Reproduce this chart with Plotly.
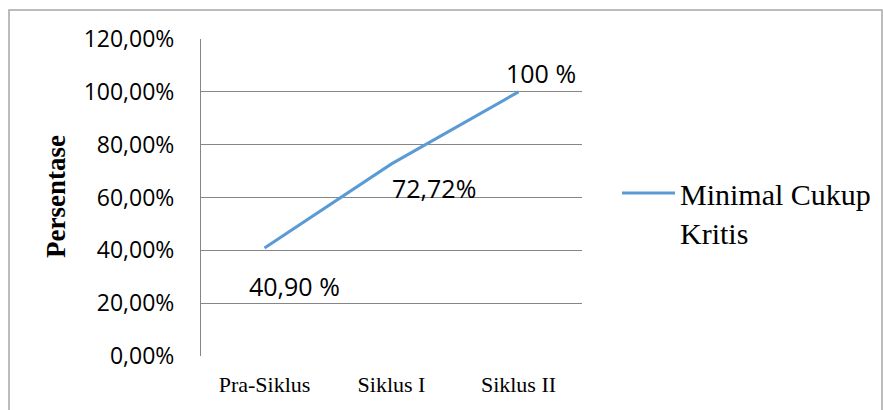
import plotly.graph_objects as go

categories = ["Pra-Siklus", "Siklus I", "Siklus II"]
values = [0.4090, 0.7272, 1.00]
value_labels = ["40,90 %", "72,72%", "100 %"]
label_offsets = [(30, -38), (42, -24), (22, 19)]
series_name = "Minimal Cukup<br>Kritis"
y_ticks = [0, 0.2, 0.4, 0.6, 0.8, 1.0, 1.2]

W, H = 883, 410
L, R, T, B = 201, 301, 39, 54
pw = W - L - R
ph = H - T - B

fig = go.Figure()
fig.add_trace(go.Scatter(
    x=categories, y=values, mode="lines", name=series_name,
    line=dict(color="#5B9BD5", width=3),
))

for c, v, t, (dx, dy) in zip(categories, values, value_labels, label_offsets):
    fig.add_annotation(x=c, y=v, text=t, showarrow=False, xshift=dx, yshift=dy,
                       font=dict(family="Open Sans", size=25, color="#000"))

fig.add_annotation(xref="paper", yref="paper", x=(39 - L) / pw, y=(H - B - 197) / ph,
                   text="<b>Persentase</b>", textangle=-90, showarrow=False,
                   font=dict(family="Liberation Serif", size=27, color="#000"))

# outer chart border
fig.add_shape(type="rect", xref="paper", yref="paper",
              x0=(9 - L) / pw, x1=(882 - L) / pw,
              y0=(H - B - 415) / ph, y1=(H - B - 10) / ph,
              line=dict(color="#a6a6a6", width=1.5), fillcolor="rgba(0,0,0,0)", layer="below")

fig.update_layout(
    width=W, height=H,
    margin=dict(l=L, r=R, t=T, b=B, pad=0, autoexpand=False),
    paper_bgcolor="white", plot_bgcolor="white",
    separators=",.",
    showlegend=True,
    legend=dict(x=(617 - L) / pw, y=(H - B - 167) / ph, xanchor="left", yanchor="top",
                valign="top", itemwidth=53,
                font=dict(family="Liberation Serif", size=30, color="#000"),
                bgcolor="rgba(0,0,0,0)"),
    xaxis=dict(
        range=[-0.5, 2.5],
        showline=False, showgrid=False, zeroline=False,
        tickfont=dict(family="Liberation Serif", size=22, color="#000"),
        ticks="outside", ticklen=9, tickcolor="rgba(0,0,0,0)",
    ),
    yaxis=dict(
        range=[0, 1.2], tickvals=y_ticks, tickformat=".2%",
        showline=True, linecolor="#868686", linewidth=1,
        showgrid=True, gridcolor="#868686", gridwidth=1, zeroline=False,
        tickfont=dict(family="Open Sans", size=23, color="#000"),
        ticks="outside", ticklen=21, tickcolor="rgba(0,0,0,0)",
    ),
)

fig.write_html("out.html", config={"displayModeBar": False},
               post_script="document.body.style.margin='0';document.body.style.padding='0';")
